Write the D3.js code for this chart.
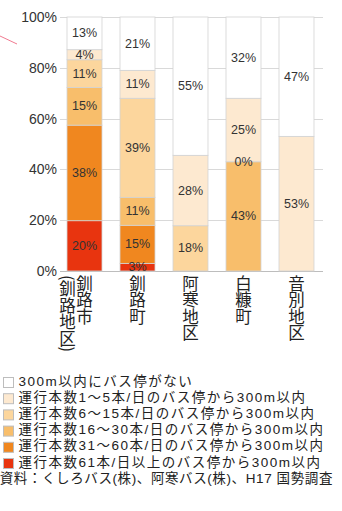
<!DOCTYPE html>
<html>
<head>
<meta charset="utf-8">
<script src="https://cdn.jsdelivr.net/npm/d3@7"></script>
<style>
  body { margin: 0; background: #fff; }
  svg { display: block; }
</style>
</head>
<body>
<svg id="chart" width="342" height="511"></svg>
<script>
// categories, bottom to top stacking order below
const categories = ['釧路市(釧路地区)', '釧路町', '阿寒地区', '白糠町', '音別地区']
const labelColumns = [['釧路市', '(釧路地区)'], ['釧路町'], ['阿寒地区'], ['白糠町'], ['音別地区']]

// null = no segment / no label, 0 = shown as 0%
const over61 = [20, 3, null, null, null]
const from31to60 = [38, 15, null, null, null]
const from16to30 = [15, 11, null, 43, null]
const from6to15 = [11, 39, 18, 0, null]
const from1to5 = [4, 11, 28, 25, 53]
const noStop = [13, 21, 55, 32, 47]

const seriesKeys = ['over61', 'from31to60', 'from16to30', 'from6to15', 'from1to5', 'noStop']
const seriesValues = [over61, from31to60, from16to30, from6to15, from1to5, noStop]
const seriesNames = [
  '運行本数61本/日以上のバス停から300m以内',
  '運行本数31～60本/日のバス停から300m以内',
  '運行本数16～30本/日のバス停から300m以内',
  '運行本数6～15本/日のバス停から300m以内',
  '運行本数1～5本/日のバス停から300m以内',
  '300m以内にバス停がない',
]
const colors = ['#e8340f', '#f0871f', '#f8be6b', '#fcd69d', '#fde9d0', '#ffffff']
const yTicks = [0, 0.2, 0.4, 0.6, 0.8, 1]
const source = '資料：くしろバス(株)、阿寒バス(株)、H17 国勢調査'

const table = categories.map((c, i) => {
  const row = { category: c }
  seriesKeys.forEach((k, j) => { row[k] = seriesValues[j][i] ?? 0 })
  return row
})

const svg = d3.select('#chart')
const jp = '"Noto Sans CJK JP", sans-serif'
// latin metrics first keeps the line box tight, CJK glyphs fall back
const legendFont = '"Liberation Sans", "Noto Sans CJK JP", sans-serif'
const num = '"Liberation Sans", Arial, sans-serif'

const x = d3.scaleBand().domain(categories).range([58, 323]).paddingInner(0.34).paddingOuter(0.17)
const y = d3.scaleLinear().domain([0, 1]).range([271, 17])

// stray pink stroke at top-left of the original
svg.append('line').attr('x1', 0).attr('y1', 36).attr('x2', 17).attr('y2', 44)
  .attr('stroke', '#f07a90').attr('stroke-width', 1)

// grid
svg.append('g')
  .selectAll('line')
  .data(yTicks)
  .join('line')
  .attr('x1', 60).attr('x2', 323)
  .attr('y1', (d) => Math.round(y(d)) + 0.5).attr('y2', (d) => Math.round(y(d)) + 0.5)
  .attr('stroke', (d) => (d === 0 ? '#bdbdbd' : '#d9d9d9'))

// y labels
svg.append('g')
  .selectAll('text')
  .data(yTicks)
  .join('text')
  .attr('x', 57).attr('y', (d) => y(d))
  .attr('text-anchor', 'end').attr('dominant-baseline', 'central')
  .style('font-family', num).style('font-size', '14px').attr('fill', '#333')
  .text(d3.format('.0%'))

// stacks
const stacked = d3.stack().keys(seriesKeys).offset(d3.stackOffsetExpand)(table)

svg.append('g')
  .selectAll('g')
  .data(stacked)
  .join('g')
  .attr('fill', (d, i) => colors[i])
  .selectAll('rect')
  .data((d) => d)
  .join('rect')
  .attr('x', (d) => x(d.data.category))
  .attr('width', x.bandwidth())
  .attr('y', (d) => y(d[1]))
  .attr('height', (d) => y(d[0]) - y(d[1]))
  .attr('stroke', '#d2d2d2').attr('stroke-width', 0.8)

// value labels, on top of every segment
const labelData = stacked.flatMap((layer, i) =>
  layer.map((s, ci) => ({ s, v: seriesValues[i][ci] })).filter((e) => e.v !== null))

svg.append('g')
  .selectAll('text')
  .data(labelData)
  .join('text')
  .attr('x', (e) => x(e.s.data.category) + x.bandwidth() / 2)
  .attr('y', (e) => y((e.s[0] + e.s[1]) / 2))
  .attr('text-anchor', 'middle').attr('dominant-baseline', 'central')
  .style('font-family', num).style('font-size', '12.5px').attr('fill', '#333')
  .text((e) => e.v + '%')

// x labels, vertical
categories.forEach((c, i) => {
  const cx = x(c) + x.bandwidth() / 2
  labelColumns[i].forEach((col, k) => {
    svg.append('text')
      .attr('x', cx - k * 17).attr('y', 275)
      .style('writing-mode', 'vertical-rl')
      .style('font-family', jp).style('font-size', '16.5px').attr('fill', '#222')
      .text(col)
  })
})

// legend, top to bottom
const legendOrder = d3.range(seriesNames.length).reverse()
const legend = svg.append('g')
  .selectAll('g')
  .data(legendOrder)
  .join('g')
  .attr('transform', (d, i) => `translate(0, ${381 + i * 16.2})`)

legend.append('rect')
  .attr('x', 3.5).attr('y', -3.5).attr('width', 10).attr('height', 10)
  .attr('fill', (d) => colors[d]).attr('stroke', '#bdbdbd')

legend.append('text')
  .attr('x', 18.5).attr('y', 0)
  .attr('dominant-baseline', 'central')
  .style('font-family', legendFont).style('font-size', '13.5px').style('letter-spacing', '1.5px').attr('fill', '#222')
  .text((d) => seriesNames[d])

svg.append('text')
  .attr('x', 333).attr('y', 478)
  .attr('text-anchor', 'end').attr('dominant-baseline', 'central')
  .style('font-family', legendFont).style('font-size', '13.5px').style('letter-spacing', '0.6px').attr('fill', '#222')
  .text(source)
</script>
</body>
</html>
